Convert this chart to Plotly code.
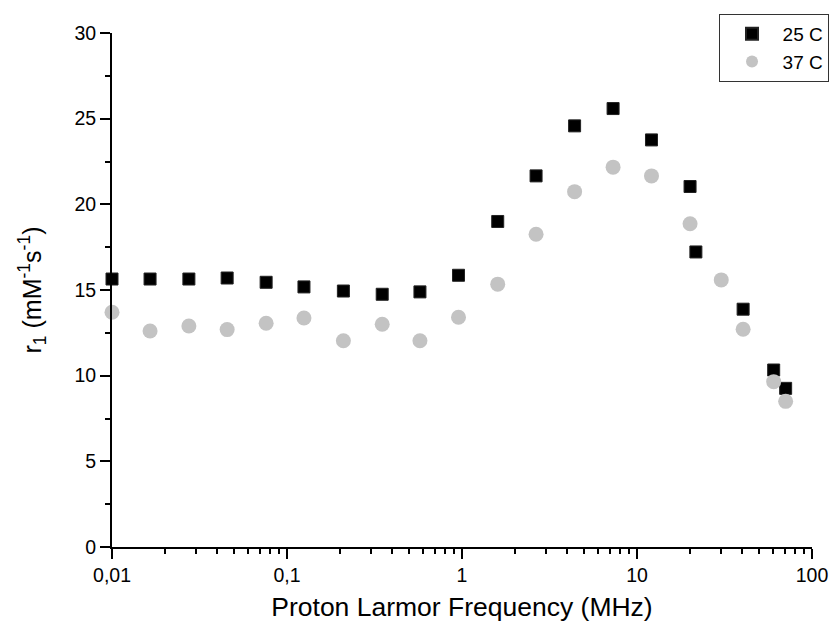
import plotly.graph_objects as go

# Data
freq_25 = [0.01, 0.0165, 0.0275, 0.0455, 0.076, 0.125, 0.21, 0.35, 0.575, 0.955,
           1.6, 2.65, 4.4, 7.3, 12.1, 20.1, 21.7, 40.4, 60.4, 70.7]
r1_25 = [15.64, 15.64, 15.64, 15.70, 15.45, 15.18, 14.94, 14.75, 14.89, 15.86,
         19.0, 21.66, 24.58, 25.59, 23.76, 21.04, 17.22, 13.88, 10.33, 9.26]

freq_37 = [0.01, 0.0165, 0.0275, 0.0455, 0.076, 0.125, 0.21, 0.35, 0.575, 0.955,
           1.6, 2.65, 4.4, 7.3, 12.1, 20.1, 30.3, 40.4, 60.4, 70.7]
r1_37 = [13.70, 12.61, 12.90, 12.69, 13.06, 13.37, 12.04, 13.00, 12.04, 13.41,
         15.34, 18.25, 20.74, 22.17, 21.66, 18.87, 15.59, 12.71, 9.65, 8.50]

series_names = ["\u00a0\u00a025 C", "\u00a0\u00a037 C"]

x_tickvals = [0.01, 0.1, 1, 10, 100]
x_ticktext = ["0,01", "0,1", "1", "10", "100"]

minor_x = [k * 10 ** e for e in range(-2, 2) for k in range(2, 10)]

FONT = "Liberation Sans, Arial, sans-serif"

fig = go.Figure()
fig.add_trace(go.Scatter(
    x=freq_25, y=r1_25, mode="markers", name=series_names[0],
    marker=dict(symbol="square", size=12, color="black",
                line=dict(color="#222222", width=1)),
    cliponaxis=False,
))
fig.add_trace(go.Scatter(
    x=freq_37, y=r1_37, mode="markers", name=series_names[1],
    marker=dict(symbol="circle", size=15, color="#c3c3c3",
                line=dict(width=0)),
    cliponaxis=False,
))

fig.update_layout(
    width=832, height=629,
    margin=dict(l=112, r=20, t=33, b=82, autoexpand=False),
    paper_bgcolor="white", plot_bgcolor="white",
    font=dict(family=FONT, color="black", size=19.5),
    legend=dict(
        x=1.0243, y=1.037, xanchor="right", yanchor="top",
        bordercolor="#333333", borderwidth=1, bgcolor="white",
        font=dict(size=19), itemsizing="constant",
        indentation=12,
    ),
)

fig.update_xaxes(
    type="log", range=[-2, 2],
    tickmode="array", tickvals=x_tickvals, ticktext=x_ticktext,
    ticks="outside", ticklen=10, tickwidth=2, tickcolor="black",
    showline=True, linecolor="black", linewidth=2,
    showgrid=False, zeroline=False,
    minor=dict(tickmode="array", tickvals=minor_x, ticks="outside",
               ticklen=5, tickwidth=2, tickcolor="black", showgrid=False),
    title=dict(text="Proton Larmor Frequency (MHz)", font=dict(size=26.5), standoff=12),
    tickfont=dict(size=19.5),
    automargin=False,
)
fig.update_yaxes(
    range=[0, 30], dtick=5, tick0=0,
    ticks="outside", ticklen=10, tickwidth=2, tickcolor="black",
    showline=True, linecolor="black", linewidth=2,
    showgrid=False, zeroline=False,
    minor=dict(dtick=2.5, ticks="outside", ticklen=5, tickwidth=2,
               tickcolor="black", showgrid=False),
    title=dict(text="r<sub>1</sub> (mM<sup>-1</sup>s<sup>-1</sup>)", font=dict(size=25), standoff=26),
    tickfont=dict(size=19.5),
    automargin=False,
)

# remove the default 8px page margin so the 832x629 figure fills the window
fig.write_html("out.html",
               config={"displayModeBar": False},
               post_script="document.body.style.margin='0';document.body.style.overflow='hidden';")
